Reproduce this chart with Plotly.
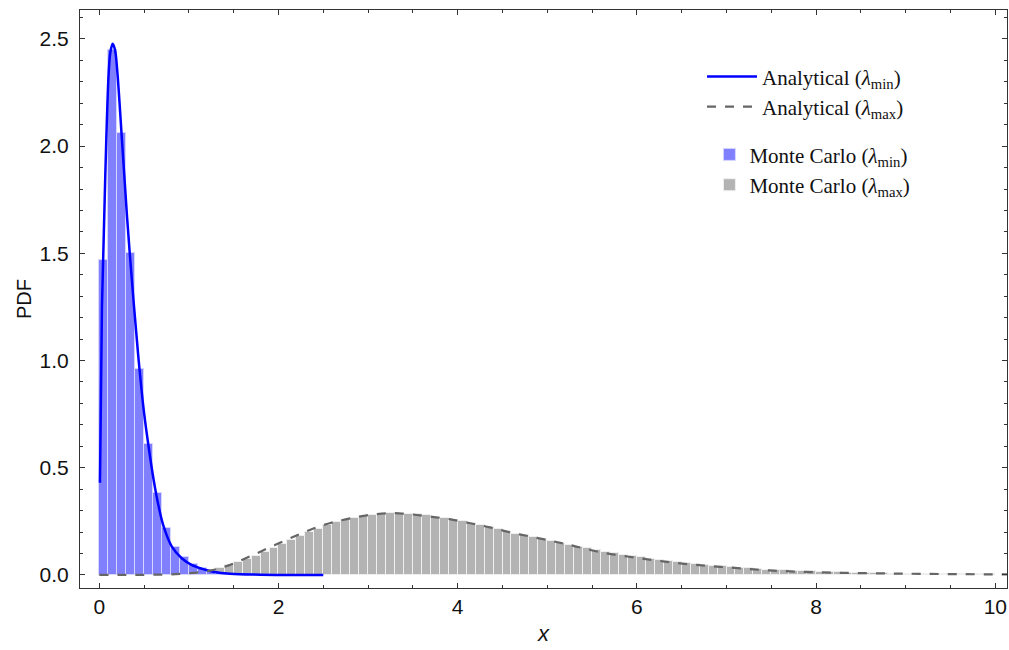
import numpy as np
import plotly.graph_objects as go

# ---------------- data ----------------
bin_width = 0.1

mc_min_values = [1.47, 2.45, 2.06, 1.50, 0.96, 0.61, 0.38, 0.22, 0.13, 0.085,
                 0.05, 0.03, 0.018, 0.01, 0.006, 0.004, 0.002]

mc_max_values = [0.000, 0.000, 0.000, 0.001, 0.001, 0.002, 0.003, 0.005, 0.007, 0.010,
                 0.013, 0.018, 0.024, 0.033, 0.044, 0.058, 0.074, 0.090, 0.108, 0.126,
                 0.144, 0.163, 0.182, 0.200, 0.216, 0.232, 0.245, 0.256, 0.266, 0.274,
                 0.280, 0.284, 0.287, 0.288, 0.286, 0.283, 0.278, 0.272, 0.265, 0.258,
                 0.250, 0.241, 0.232, 0.222, 0.213, 0.203, 0.193, 0.184, 0.175, 0.166,
                 0.158, 0.149, 0.140, 0.132, 0.124, 0.116, 0.109, 0.102, 0.095, 0.088,
                 0.082, 0.076, 0.070, 0.065, 0.060, 0.056, 0.051, 0.047, 0.043, 0.040,
                 0.036, 0.033, 0.030, 0.028, 0.025, 0.023, 0.021, 0.019, 0.017, 0.016,
                 0.014, 0.013, 0.012, 0.011, 0.010, 0.009, 0.008, 0.007, 0.006, 0.006,
                 0.005, 0.005, 0.004, 0.004, 0.003, 0.003, 0.003, 0.002, 0.002, 0.002]

an_min_x = [0.008, 0.03, 0.067, 0.105, 0.125, 0.15, 0.175, 0.2, 0.253, 0.31, 0.384, 0.44,
            0.496, 0.55, 0.607, 0.663, 0.719, 0.81, 0.92, 1.03, 1.15, 1.27, 1.46,
            1.8, 2.1, 2.5]
an_min_y = [0.43, 1.25, 1.86, 2.34, 2.44, 2.477, 2.45, 2.355, 2.03, 1.67, 1.27, 1.0,
            0.77, 0.60, 0.443, 0.319, 0.225, 0.132, 0.078, 0.047, 0.028, 0.015, 0.005,
            0.001, 0.0, 0.0]

an_max_x = [0.0, 0.5, 0.9, 1.235, 1.46, 1.68, 1.905, 2.13, 2.35, 2.57, 2.80, 3.02, 3.24,
            3.47, 3.69, 3.91, 4.14, 4.36, 4.58, 4.81, 5.03, 5.25, 5.59, 6.03, 6.48,
            6.93, 7.48, 8.04, 8.6, 9.16, 10.2]
an_max_y = [0.0, 0.0005, 0.005, 0.02, 0.047, 0.086, 0.129, 0.171, 0.21, 0.241, 0.264,
            0.28, 0.288, 0.283, 0.272, 0.26, 0.241, 0.222, 0.199, 0.179, 0.16, 0.14,
            0.106, 0.078, 0.054, 0.038, 0.021, 0.012, 0.008, 0.005, 0.002]

x_ticks = [0, 2, 4, 6, 8, 10]
y_ticks = [0.0, 0.5, 1.0, 1.5, 2.0, 2.5]

# ---------------- figure ----------------
min_centers = (np.arange(len(mc_min_values)) + 0.5) * bin_width
max_centers = (np.arange(len(mc_max_values)) + 0.5) * bin_width

fig = go.Figure()

fig.add_trace(go.Bar(
    x=max_centers, y=mc_max_values, width=bin_width,
    marker=dict(color="#b3b3b3", line=dict(color="rgba(240,240,240,0.95)", width=1)),
    name="Monte Carlo (<i>λ</i><sub>max</sub>)", legend="legend2",
    legendrank=2, showlegend=True, hoverinfo="skip"))

fig.add_trace(go.Bar(
    x=min_centers, y=mc_min_values, width=bin_width,
    marker=dict(color="#8080ff", line=dict(color="rgba(215,215,255,0.95)", width=1)),
    name="Monte Carlo (<i>λ</i><sub>min</sub>)", legend="legend2",
    legendrank=1, showlegend=True, hoverinfo="skip"))

fig.add_trace(go.Scatter(
    x=an_min_x, y=an_min_y, mode="lines", line_shape="spline",
    line=dict(color="#0000ff", width=2.5),
    name="Analytical (<i>λ</i><sub>min</sub>)", legendgroup="a", legendrank=1,
    hoverinfo="skip"))

fig.add_trace(go.Scatter(
    x=an_max_x, y=an_max_y, mode="lines", line_shape="spline",
    line=dict(color="#666666", width=2.2, dash="dash"),
    name="Analytical (<i>λ</i><sub>max</sub>)", legendgroup="b", legendrank=2,
    hoverinfo="skip"))

sans = "Liberation Sans, Arial, sans-serif"
axis_common = dict(
    showline=True, linecolor="#333333", linewidth=1, mirror="allticks",
    ticks="inside", ticklen=5, tickcolor="#333333", showgrid=False, zeroline=False,
    automargin=False,
    tickfont=dict(family=sans, size=21, color="#111111"),
)

fig.update_xaxes(
    range=[-0.215, 10.13], tickvals=x_ticks, ticktext=[str(v) for v in x_ticks],
    minor=dict(dtick=0.5, tick0=0, ticks="inside", ticklen=3, tickcolor="#333333"),
    title=dict(text="<i>x</i>", font=dict(family=sans, size=22, color="#111111"),
               standoff=8),
    **axis_common)

fig.update_yaxes(
    range=[-0.061, 2.635], tickvals=y_ticks, ticktext=[f"{v:.1f}" for v in y_ticks],
    minor=dict(dtick=0.1, tick0=0, ticks="inside", ticklen=3, tickcolor="#333333"),
    ticklabelstandoff=6,
    title=dict(text="PDF", font=dict(family=sans, size=20, color="#111111"),
               standoff=2),
    **axis_common)

legend_font = dict(family="Liberation Serif, Times New Roman, serif", size=21, color="#111111")

fig.update_layout(
    width=1009, height=650,
    margin=dict(l=80, r=2, t=10, b=62),
    plot_bgcolor="white", paper_bgcolor="white",
    barmode="overlay", bargap=0,
    showlegend=True, hovermode=False,
    legend=dict(x=0.671, y=0.92, xanchor="left", yanchor="top",
                bgcolor="rgba(0,0,0,0)", font=legend_font, itemwidth=50,
                tracegroupgap=7, traceorder="normal"),
    legend2=dict(x=0.679, y=0.785, xanchor="left", yanchor="top",
                 bgcolor="rgba(0,0,0,0)", font=legend_font, traceorder="normal"),
)

fig.write_html("out.html", config={"displayModeBar": False},
               post_script="document.body.style.margin='0px';document.body.style.overflow='hidden';")
